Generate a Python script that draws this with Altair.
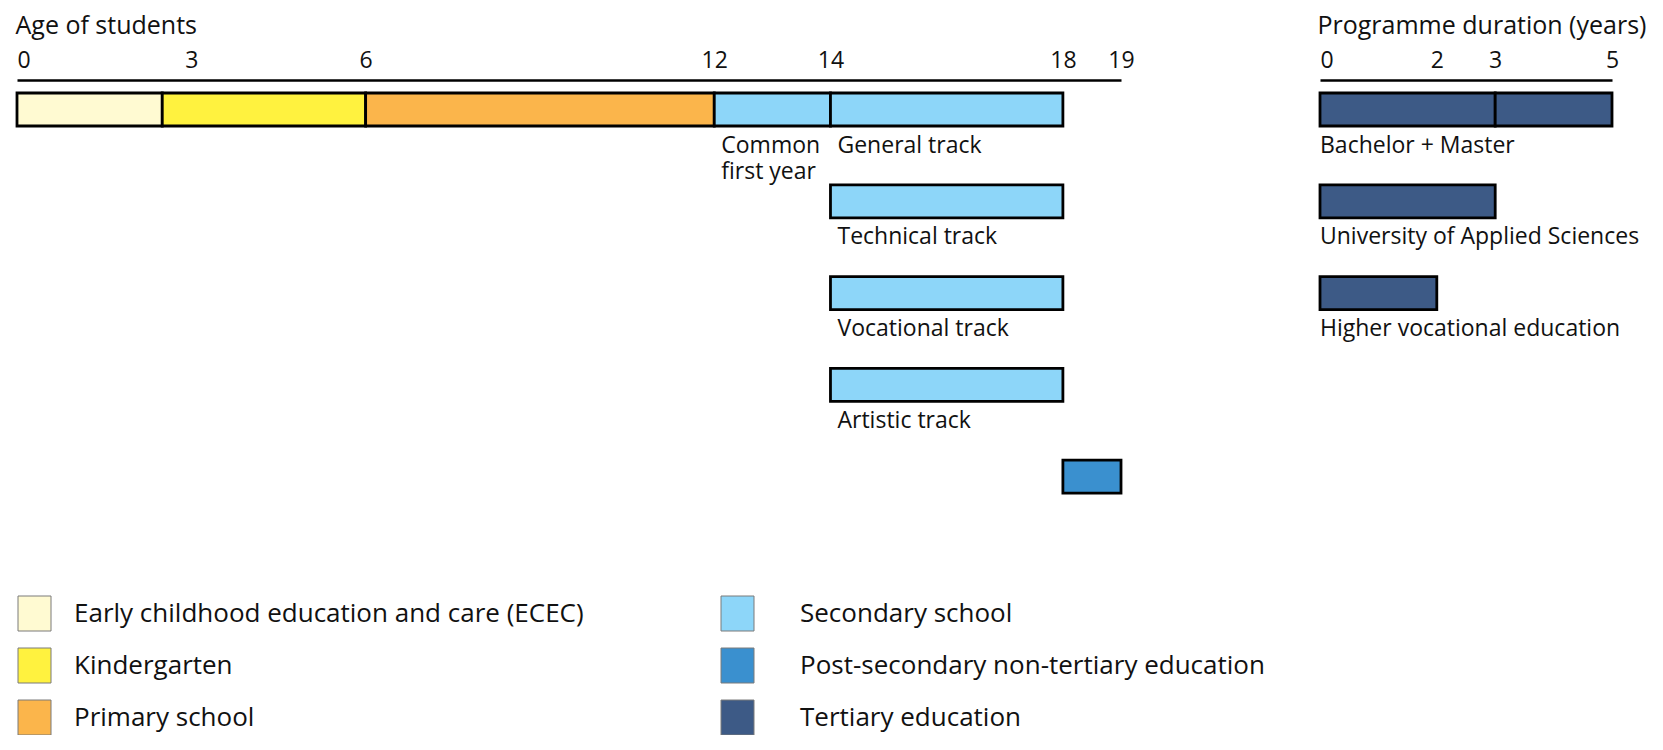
import altair as alt
import pandas as pd

FONT = "Open Sans"
INK = "#111111"

# ---- Left panel: age of students ----
seg_level = [
    "Early childhood education and care (ECEC)",
    "Kindergarten",
    "Primary school",
    "Secondary school",
    "Secondary school",
    "Secondary school",
    "Secondary school",
    "Secondary school",
    "Post-secondary non-tertiary education",
]
seg_start = [0, 2.5, 6, 12, 14, 14, 14, 14, 18]
seg_end = [2.5, 6, 12, 14, 18, 18, 18, 18, 19]
seg_row = [0, 0, 0, 0, 0, 1, 2, 3, 4]
seg_text = ["", "", "", "Common\nfirst year", "General track", "Technical track",
            "Vocational track", "Artistic track", ""]
age_ticks = [0, 3, 6, 12, 14, 18, 19]

# ---- Right panel: programme duration ----
prog_level = ["Tertiary education"] * 4
prog_start = [0, 3, 0, 0]
prog_end = [3, 5, 3, 2]
prog_row = [0, 0, 1, 2]
prog_text = ["Bachelor + Master", "", "University of Applied Sciences",
             "Higher vocational education"]
dur_ticks = [0, 2, 3, 5]

# ---- Legend ----
legend_levels = [
    "Early childhood education and care (ECEC)",
    "Kindergarten",
    "Primary school",
    "Secondary school",
    "Post-secondary non-tertiary education",
    "Tertiary education",
]
legend_col = [0, 0, 0, 1, 1, 1]
legend_row = [0, 1, 2, 0, 1, 2]
level_colors = ["#FFFAD2", "#FFF23F", "#FBB54B", "#8DD6F9", "#3A90CF", "#3D5A86"]

seg_df = pd.DataFrame({"level": seg_level, "start": seg_start, "end": seg_end,
                       "row": seg_row, "text": seg_text})
prog_df = pd.DataFrame({"level": prog_level, "start": prog_start, "end": prog_end,
                        "row": prog_row, "text": prog_text})
leg_df = pd.DataFrame({"level": legend_levels, "col": legend_col, "lrow": legend_row})

color = alt.Color("level:N", scale=alt.Scale(domain=legend_levels, range=level_colors),
                  legend=None)

# row band scale (bars 33px tall, 91.8px apart)
pi_rows = 1 - 33 / 91.8
row_scale = alt.Scale(type="band", domain=[0, 1, 2, 3, 4],
                      range=[13, 13 + 91.8 * (5 - pi_rows)],
                      paddingInner=pi_rows, paddingOuter=0)


def top_axis(values, title, tx):
    return alt.Axis(
        orient="top", values=values, title=title, format="d",
        ticks=False, tickSize=0, grid=False,
        domain=True, domainColor="black", domainWidth=2.5,
        labelFont=FONT, labelFontSize=23, labelColor=INK, labelPadding=13,
        labelBaseline="alphabetic", labelFlush=False, labelOverlap=False,
        labelAlign={"expr": "datum.value === 0 ? 'left' : 'center'"},
        titleFont=FONT, titleFontSize=25, titleFontWeight="normal", titleColor=INK,
        titleX=tx, titleY=-47, titleAlign="left", titleBaseline="alphabetic", titleAngle=0,
    )


age_axis = top_axis(age_ticks, "Age of students", -2)
age_scale = alt.Scale(domain=[0, 19], range=[0, 1104], nice=False, zero=False)
dur_axis = top_axis(dur_ticks, "Programme duration (years)", 1300)
dur_scale = alt.Scale(domain=[0, 5], range=[1303, 1595], nice=False, zero=False)

bar_style = dict(stroke="black", strokeWidth=2.8)
text_style = dict(font=FONT, fontSize=23, color=INK, align="left",
                  baseline="alphabetic", dy=43, lineBreak="\n", lineHeight=26)

left_bars = alt.Chart(seg_df).mark_bar(**bar_style).encode(
    x=alt.X("start:Q", scale=age_scale, axis=age_axis),
    x2="end:Q",
    y=alt.Y("row:O", scale=row_scale, axis=None),
    color=color,
)
left_text = alt.Chart(seg_df).transform_filter("datum.text != ''").mark_text(
    dx=7, **text_style
).encode(
    x=alt.X("start:Q", scale=age_scale, axis=age_axis),
    y=alt.Y("row:O", scale=row_scale, axis=None),
    text="text:N",
)
left = alt.layer(left_bars, left_text)

right_bars = alt.Chart(prog_df).mark_bar(**bar_style).encode(
    x=alt.X("start:Q", scale=dur_scale, axis=dur_axis),
    x2="end:Q",
    y=alt.Y("row:O", scale=row_scale, axis=None),
    color=color,
)
right_text = alt.Chart(prog_df).transform_filter("datum.text != ''").mark_text(
    dx=0, **text_style
).encode(
    x=alt.X("start:Q", scale=dur_scale, axis=dur_axis),
    y=alt.Y("row:O", scale=row_scale, axis=None),
    text="text:N",
)
right = alt.layer(right_bars, right_text)

# legend layout scales
pi_lx = 1 - 33 / 703
leg_x_scale = alt.Scale(type="band", domain=[0, 1], range=[1, 1 + 703 * (2 - pi_lx)],
                        paddingInner=pi_lx, paddingOuter=0)
pi_ly = 1 - 35 / 52
leg_y_scale = alt.Scale(type="band", domain=[0, 1, 2], range=[516, 516 + 52 * (3 - pi_ly)],
                        paddingInner=pi_ly, paddingOuter=0)

leg_rect = alt.Chart(leg_df).mark_rect(stroke="#7a7a7a", strokeWidth=1).encode(
    x=alt.X("col:O", scale=leg_x_scale, axis=None),
    y=alt.Y("lrow:O", scale=leg_y_scale, axis=None),
    color=color,
)
leg_text_style = dict(font=FONT, fontSize=26, color=INK, align="left", baseline="middle")
leg_text0 = alt.Chart(leg_df).transform_filter("datum.col == 0").mark_text(
    dx=39.5, **leg_text_style
).encode(
    x=alt.X("col:O", scale=leg_x_scale, axis=None),
    y=alt.Y("lrow:O", scale=leg_y_scale, axis=None),
    text="level:N",
)
leg_text1 = alt.Chart(leg_df).transform_filter("datum.col == 1").mark_text(
    dx=62.5, **leg_text_style
).encode(
    x=alt.X("col:O", scale=leg_x_scale, axis=None),
    y=alt.Y("lrow:O", scale=leg_y_scale, axis=None),
    text="level:N",
)
legend = alt.layer(leg_rect, leg_text0, leg_text1)

chart = alt.layer(left, right, legend).resolve_scale(
    x="independent", y="independent"
).properties(
    width=1638, height=655,
    padding={"left": 9, "top": 72, "right": 0, "bottom": 0},
    autosize=alt.AutoSizeParams(type="none"),
    background="white",
).configure_view(stroke=None)

chart.save("out.html", embed_options={"renderer": "svg", "actions": False})
